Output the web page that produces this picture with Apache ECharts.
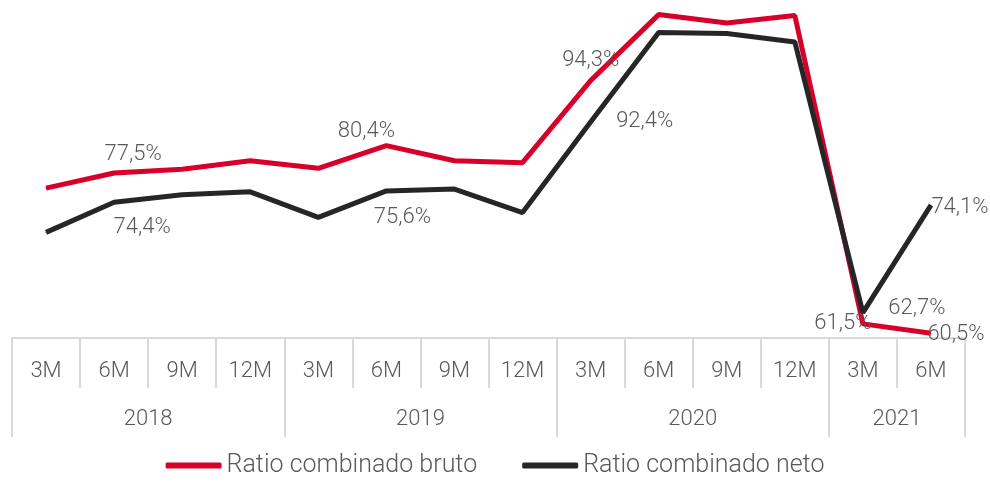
<html>
<head>
  <meta http-equiv="Content-Type" content="text/html; charset=UTF-8">
  <script src="https://cdn.jsdelivr.net/npm/echarts@6/dist/echarts.min.js"></script>
  <style>
    body { margin: 0; background: #fff; }
    #div_chart { width: 990px; height: 483px; }
  </style>
</head>
<body>
  <div id="div_chart"></div>
  <script>
    // periodos (trimestres acumulados) y años
    var periodos = ['3M','6M','9M','12M','3M','6M','9M','12M','3M','6M','9M','12M','3M','6M'];
    var anios = ['2018','2019','2020','2021'];
    var aniosPeriodos = [4, 4, 4, 2];

    var bruto = [75.9, 77.5, 77.9, 78.8, 78.0, 80.4, 78.8, 78.6, 87.3, 94.3, 93.4, 94.2, 61.5, 60.5];
    var neto  = [71.2, 74.4, 75.2, 75.5, 72.8, 75.6, 75.8, 73.3, 82.9, 92.4, 92.3, 91.4, 62.7, 74.1];

    // puntos con etiqueta y su desplazamiento
    var etqBruto = {1: [19, -19], 5: [-20, -14], 9: [-68, 46], 12: [-20, 0], 13: [25, 1]};
    var etqNeto  = {1: [28, 25], 5: [16, 27], 9: [-14, 89], 12: [54, -4], 13: [29, 2]};

    var fuente = "Roboto";
    var gris = '#595959';
    var linea = '#d9d9d9';

    function fmt(v) {
      return v.toFixed(1).replace('.', ',') + '%';
    }
    function puntos(vals, etq) {
      return vals.map(function (v, i) {
        var o = { value: v };
        if (etq[i]) {
          o.label = { show: true, offset: etq[i] };
        }
        return o;
      });
    }

    // limites de cada año sobre el eje de valores 0..14
    var limites = [0], centros = [], acum = 0;
    for (var i = 0; i < aniosPeriodos.length; i++) {
      centros.push(acum + aniosPeriodos[i] / 2);
      acum += aniosPeriodos[i];
      limites.push(acum);
    }

    var myChart = echarts.init(document.getElementById('div_chart'));
    var options = {
      animation: false,
      textStyle: { fontFamily: fuente },
      grid: { left: 12, right: 25, top: 8, bottom: 145 },
      legend: {
        bottom: 0,
        left: 'center',
        icon: 'roundRect',
        itemWidth: 56,
        itemHeight: 6,
        itemGap: 45,
        textStyle: { fontSize: 25, fontWeight: 300, color: gris, fontFamily: fuente },
        data: ['Ratio combinado bruto', 'Ratio combinado neto']
      },
      xAxis: [
        {
          type: 'category',
          data: periodos,
          boundaryGap: true,
          axisLine: { show: true, lineStyle: { color: linea, width: 2 } },
          axisTick: { show: true, interval: 0, length: 50, lineStyle: { color: linea, width: 2 } },
          axisLabel: { interval: 0, margin: 22, fontSize: 22, fontWeight: 300, color: gris, fontFamily: fuente }
        },
        {
          type: 'value',
          position: 'bottom',
          min: 0,
          max: periodos.length,
          axisLine: { show: false },
          splitLine: { show: false },
          axisTick: { show: true, length: 99, customValues: limites, lineStyle: { color: linea, width: 2 } },
          axisLabel: {
            margin: 70,
            customValues: centros,
            fontSize: 22, fontWeight: 300, color: gris, fontFamily: fuente,
            formatter: function (v) {
              var k = centros.indexOf(v);
              return k >= 0 ? anios[k] : '';
            }
          }
        }
      ],
      yAxis: {
        type: 'value',
        min: 60,
        max: 95,
        show: false,
        splitLine: { show: false }
      },
      series: [
        {
          name: 'Ratio combinado bruto',
          type: 'line',
          xAxisIndex: 0,
          data: puntos(bruto, etqBruto),
          symbol: 'circle',
          symbolSize: 1,
          color: '#d7002b',
          lineStyle: { width: 5, color: '#d7002b' },
          label: {
            show: false,
            position: 'inside',
            fontSize: 22, fontWeight: 300, color: gris, fontFamily: fuente,
            formatter: function (p) { return fmt(p.value); }
          }
        },
        {
          name: 'Ratio combinado neto',
          type: 'line',
          xAxisIndex: 0,
          data: puntos(neto, etqNeto),
          symbol: 'circle',
          symbolSize: 1,
          color: '#262626',
          lineStyle: { width: 5, color: '#262626' },
          label: {
            show: false,
            position: 'inside',
            fontSize: 22, fontWeight: 300, color: gris, fontFamily: fuente,
            formatter: function (p) { return fmt(p.value); }
          }
        }
      ]
    };
    myChart.setOption(options);
  </script>
</body>
</html>
